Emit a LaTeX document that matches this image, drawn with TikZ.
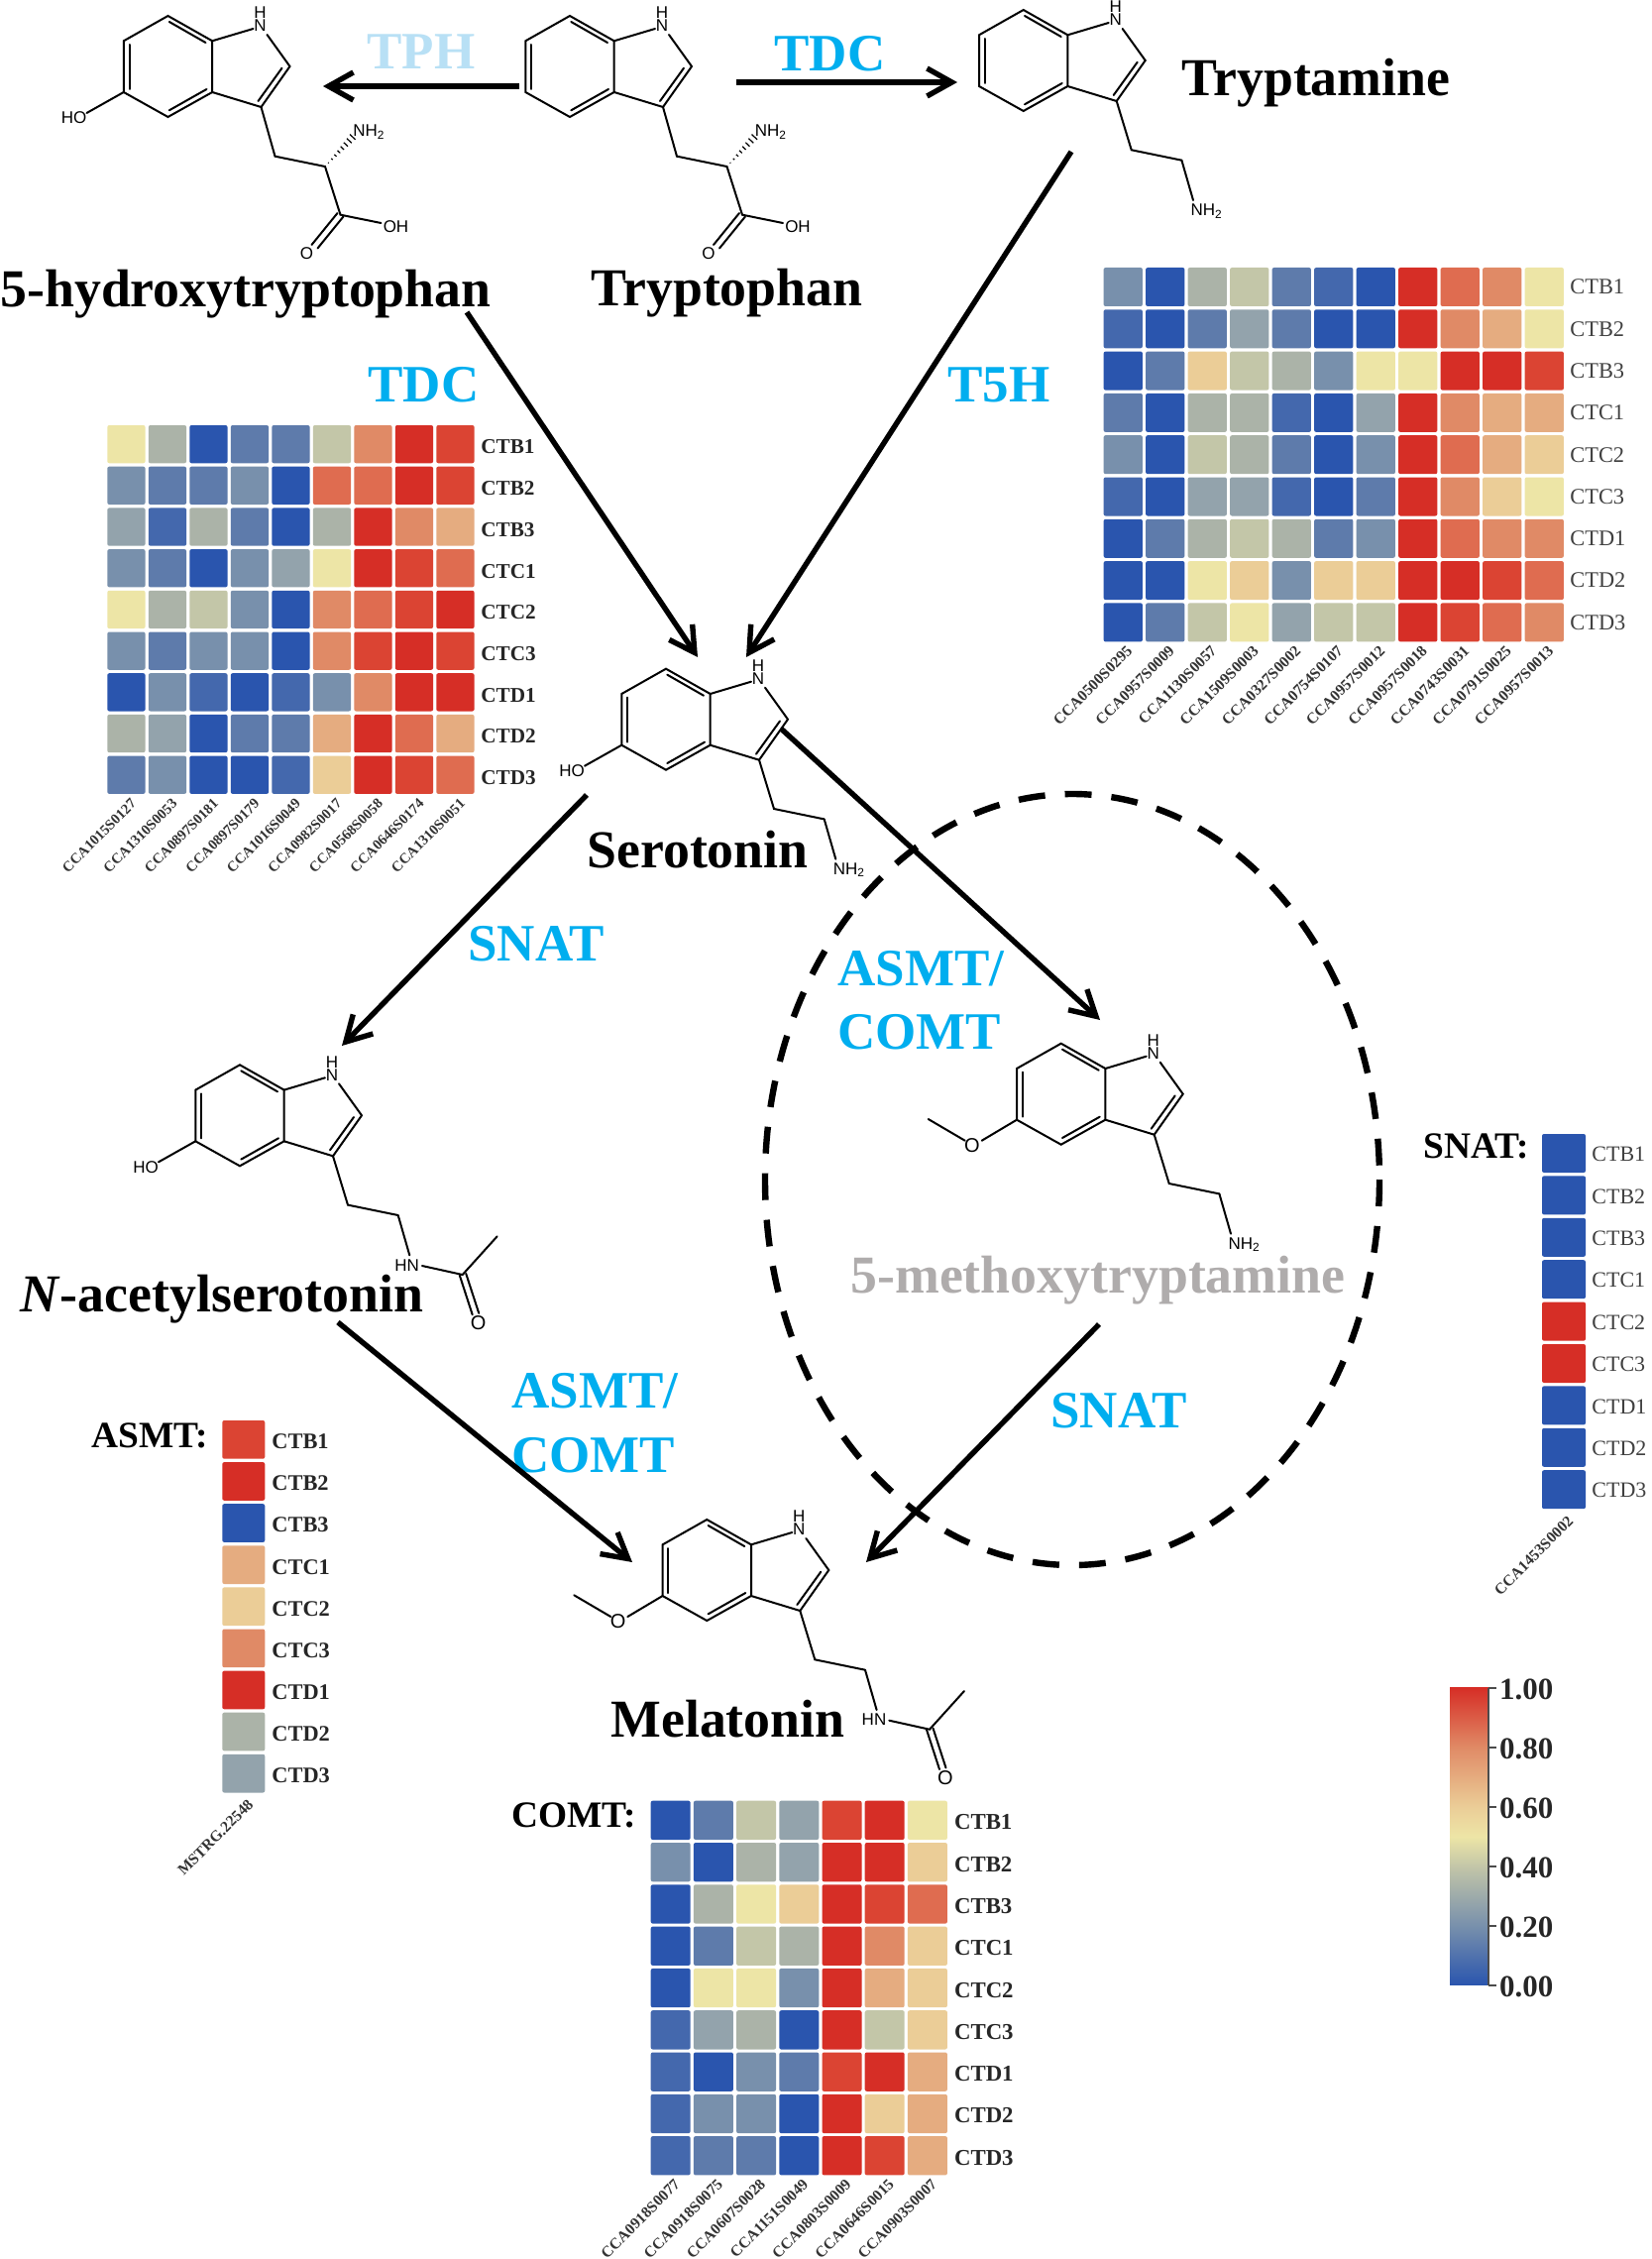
\documentclass[tikz,border=0pt]{standalone}
\usepackage{fontspec}
\setmainfont{Liberation Serif}
\newfontfamily\atomfont{Liberation Sans}
\usetikzlibrary{arrows.meta}

\definecolor{h0}{HTML}{2A55AE}
\definecolor{h1}{HTML}{4468AD}
\definecolor{h2}{HTML}{5E7BAB}
\definecolor{h3}{HTML}{7890AC}
\definecolor{h4}{HTML}{93A3AC}
\definecolor{h5}{HTML}{ABB3A8}
\definecolor{h6}{HTML}{C3C6A8}
\definecolor{h7}{HTML}{EDE5A6}
\definecolor{h8}{HTML}{EBCD97}
\definecolor{h9}{HTML}{E5AC80}
\definecolor{h10}{HTML}{E08A66}
\definecolor{h11}{HTML}{DF6C50}
\definecolor{h12}{HTML}{DB4433}
\definecolor{h13}{HTML}{D62E26}
\definecolor{enzyme}{HTML}{00AEEF}
\definecolor{enzymeoff}{HTML}{B8E0F5}
\definecolor{faded}{HTML}{AFACAC}
\pgfdeclareverticalshading{heatbar}{100bp}{color(0bp)=(h0); color(25bp)=(h0);
  color(35bp)=(h3); color(45bp)=(h6); color(50bp)=(h7); color(55bp)=(h8);
  color(65bp)=(h10); color(75bp)=(h13); color(100bp)=(h13)}

\tikzset{
  bond/.style={line width=1pt,line cap=round},
  atom/.style={font=\atomfont\fontsize{8.5}{9}\selectfont,inner sep=0pt},
  mol/.style={font=\bfseries\fontsize{26.9}{30}\selectfont,inner sep=0pt,anchor=base west},
  enz/.style={mol,font=\bfseries\fontsize{26.5}{30}\selectfont,text=enzyme},
  tag/.style={font=\bfseries\fontsize{18.7}{20}\selectfont,inner sep=0pt,anchor=base west},
  react/.style={line width=2.7pt,-{Straight Barb[length=12.5pt,width=14pt,line width=2.7pt]}},
  rowplain/.style={font=\fontsize{11.2}{12}\selectfont,text=black!75,inner sep=0pt,anchor=west},
  rowbold/.style={font=\bfseries\fontsize{10.6}{12}\selectfont,text=black!85,inner sep=0pt,anchor=west},
  gene/.style={font=\bfseries\fontsize{7.8}{9}\selectfont,text=black!80,inner sep=0pt,anchor=east,rotate=45},
  barlabel/.style={font=\bfseries\fontsize{15.5}{17}\selectfont,text=black!85,inner sep=0pt,anchor=west},
}

% x, y, column step, row step, cell width, cell height, rows of colour levels
\newcommand{\heatcells}[7]{
  \foreach \row [count=\j from 0] in {#7}{
    \foreach \v [count=\i from 0] in \row{
      \fill[fill=h\v,rounded corners=1pt] ({#1+\i*#3},{#2+\j*#4}) rectangle ++(#5,#6);
    }
  }
}
% prefix, x, y of the first row's centre, row step, style
\newcommand{\rowlabels}[5]{
  \foreach \lab [count=\j from 0] in {CTB1,CTB2,CTB3,CTC1,CTC2,CTC3,CTD1,CTD2,CTD3}{
    \node[#5] (#1\lab) at ({#2},{#3+\j*#4}) {\lab};
  }
}
% prefix, x and y of the first label's end, column step, names
\newcommand{\genelabels}[5]{
  \foreach \lab [count=\i from 0] in {#5}{
    \node[gene] (#1\lab) at ({#2+\i*#4},{#3}) {\lab};
  }
}
% drawn with the ring's centre as origin
\newcommand{\indole}[1]{
  \draw[bond] (0,-51) -- (-44.7,-25.7) -- (-44.7,26) -- (0,51) -- (44.7,26) -- (44.7,-25.7) -- cycle;
  \draw[bond] (44.7,-25.7) -- (86,-38);
  \draw[bond] (100,-32) -- (123,0) -- (94,41) -- (44.7,26);
  \draw[bond] (1.3,-45) -- (38,-24);
  \draw[bond] (-39,-22) -- (-39,23);
  \draw[bond] (1.3,44.3) -- (39,23);
  \draw[bond] (115,1.7) -- (91,35);
  \node[atom] (#1N) at (93,-41) {N};
  \node[atom] (#1H) at (93,-54) {H};
}
\newcommand{\hydroxy}[1]{
  \draw[bond] (-44.7,26) -- (-82,47);
  \node[atom] (#1HO) at (-95,52) {HO};
}
\newcommand{\methoxy}[1]{
  \draw[bond] (-44.7,26) -- (-80,47);
  \draw[bond] (-97,47) -- (-134,25.3);
  \node[atom,font=\atomfont\fontsize{10}{10}\selectfont] (#1O) at (-89.7,52) {O};
}
\newcommand{\ethyl}{
  \draw[bond] (94,41) -- (109,90.3) -- (159.7,100.7);
}
\newcommand{\amine}[1]{
  \draw[bond] (159.7,100.7) -- (171.3,141);
  \node[atom] (#1NH) at (185,152) {NH\textsubscript{2}};
}
\newcommand{\acetamide}[1]{
  \draw[bond] (159.7,100.7) -- (171.3,141);
  \node[atom] (#1HN) at (168.7,151) {HN};
  \draw[bond] (184,151.7) -- (224.7,160.7) -- (259.7,122);
  \draw[bond] (221.7,161) -- (234.7,201);
  \draw[bond] (228.2,159.5) -- (241.2,199.5);
  \node[atom,font=\atomfont\fontsize{10}{10}\selectfont] (#1O) at (240.7,209.7) {O};
}
\newcommand{\aminoacid}[1]{
  \draw[bond] (94,41) -- (108,90.7) -- (158.5,101) -- (174,149.7) -- (215,158);
  \draw[bond] (171,148) -- (145,180);
  \draw[bond] (177,151.5) -- (151,183.5);
  \foreach \t in {.12,.24,...,1}{
    \draw[line width=.6pt] ({158.5+29*\t-2.9*\t},{101-31*\t-2.7*\t}) -- ({158.5+29*\t+2.9*\t},{101-31*\t+2.7*\t});
  }
  \node[atom] (#1NH) at (203,66) {NH\textsubscript{2}};
  \node[atom] (#1OH) at (230,162) {OH};
  \node[atom] (#1O) at (140,189) {O};
}

\begin{document}
\begin{tikzpicture}[x=.5pt,y=-.5pt]
\useasboundingbox (0,0) rectangle (1666,2279);
\fill[white] (0,0) rectangle (1666,2279);

% molecules
\begin{scope}[shift={(169.5,67)}] \indole{htp} \hydroxy{htp} \aminoacid{htp} \end{scope}
\begin{scope}[shift={(575,67)}] \indole{trp} \aminoacid{trp} \end{scope}
\begin{scope}[shift={(1032.7,61)}] \indole{tra} \ethyl \amine{tra} \end{scope}
\begin{scope}[shift={(672,725.7)}] \indole{ser} \hydroxy{ser} \ethyl \amine{ser} \end{scope}
\begin{scope}[shift={(242,1125.3)}] \indole{nas} \hydroxy{nas} \ethyl \acetamide{nas} \end{scope}
\begin{scope}[shift={(1070.7,1103.7)}] \indole{mtr} \methoxy{mtr} \ethyl \amine{mtr} \end{scope}
\begin{scope}[shift={(713.3,1584)}] \indole{mel} \methoxy{mel} \ethyl \acetamide{mel} \end{scope}

% names
\node[mol] (htpname) at (0,309.5) {5-hydroxytryptophan};
\node[mol] (trpname) at (596,308.5) {Tryptophan};
\node[mol] (traname) at (1192,96.5) {Tryptamine};
\node[mol] (sername) at (592,875) {Serotonin};
\node[mol] (nasname) at (20,1323) {\textit{N}-acetylserotonin};
\node[mol,text=faded] (mtrname) at (858,1304) {5-methoxytryptamine};
\node[mol] (melname) at (616,1752) {Melatonin};

% enzymes
\node[enz,text=enzymeoff] (tph) at (370,70) {TPH};
\node[enz] (tdcb) at (781,72) {TDC};
\node[enz] (tdca) at (371,406) {TDC};
\node[enz] (tfh) at (956,406) {T5H};
\node[enz] (snata) at (472,969) {SNAT};
\node[enz] (snatb) at (1060,1440) {SNAT};
\node[enz] (asmta) at (845,994) {ASMT/};
\node[enz] (comta) at (845,1058) {COMT};
\node[enz] (asmtb) at (516,1420) {ASMT/};
\node[enz] (comtb) at (516,1485) {COMT};

% free ends of the reactions
\coordinate (trpw) at (524,87);
\coordinate (htpe) at (326,87);
\coordinate (trpe) at (743,83);
\coordinate (trae) at (966,83);
\coordinate (htps) at (471,315);
\coordinate (tras) at (1081,153);
\coordinate (serl) at (704,663);
\coordinate (serr) at (753,663);
\coordinate (sersw) at (592,802);
\coordinate (nasn) at (345,1055);
\coordinate (sere) at (788,735);
\coordinate (mtrn) at (1110,1029);
\coordinate (nass) at (341,1334);
\coordinate (mtrs) at (1109,1336);
\coordinate (mell) at (638,1576);
\coordinate (melr) at (874,1576);

\draw[line width=3.2pt,dash pattern=on 13.5pt off 10pt] (1082,1190) ellipse [x radius=310,y radius=389];

\path[react]
(trpw) edge (htpe)
(trpe) edge (trae)
(htps) edge (serl)
(tras) edge (serr)
(sersw) edge (nasn)
(sere) edge (mtrn)
(nass) edge (mell)
(mtrs) edge (melr)
;

% heat maps
\heatcells{1113.6}{270}{42.5}{42.3}{39.3}{39}{
  {3,0,5,6,2,1,0,13,11,10,7},
  {1,0,2,4,2,0,0,13,10,9,7},
  {0,2,8,6,5,3,7,7,13,13,12},
  {2,0,5,5,1,0,4,13,10,9,9},
  {3,0,6,5,2,0,3,13,11,9,8},
  {1,0,4,4,1,0,2,13,10,8,7},
  {0,2,5,6,5,2,3,13,11,10,10},
  {0,0,7,8,3,8,8,13,13,12,11},
  {0,2,6,7,4,6,6,13,12,11,10}}
\rowlabels{t}{1584}{289.5}{42.3}{rowplain}
\genelabels{t}{1140}{654}{42.5}{CCA0500S0295,CCA0957S0009,CCA1130S0057,CCA1509S0003,CCA0327S0002,CCA0754S0107,CCA0957S0012,CCA0957S0018,CCA0743S0031,CCA0791S0025,CCA0957S0013}

\heatcells{108.3}{429}{41.5}{41.7}{38.3}{38.3}{
  {7,5,0,2,2,6,10,13,12},
  {3,2,2,3,0,11,11,13,12},
  {4,1,5,2,0,5,13,10,9},
  {3,2,0,3,4,7,13,12,11},
  {7,5,6,3,0,10,11,12,13},
  {3,2,3,3,0,10,12,13,12},
  {0,3,1,0,1,3,10,13,13},
  {5,4,0,2,2,9,13,11,9},
  {2,3,0,0,1,8,13,12,11}}
\rowlabels{d}{485}{451}{41.7}{rowbold}
\begin{scope}[gene/.append style={font=\bfseries\fontsize{7.3}{9}\selectfont}]
\genelabels{d}{135}{808}{41.5}{CCA1015S0127,CCA1310S0053,CCA0897S0181,CCA0897S0179,CCA1016S0049,CCA0982S0017,CCA0568S0058,CCA0646S0174,CCA1310S0051}
\end{scope}

\heatcells{656.7}{1816.7}{43.2}{42.3}{40}{39.3}{
  {0,2,6,4,12,13,7},
  {3,0,5,4,13,13,8},
  {0,5,7,8,13,12,11},
  {0,2,6,5,13,10,8},
  {0,7,7,3,13,9,8},
  {1,4,5,0,13,6,8},
  {1,0,3,2,12,13,9},
  {1,3,3,0,13,8,9},
  {1,2,2,0,13,12,9}}
\rowlabels{c}{962.7}{1838.4}{42.3}{rowbold,font=\bfseries\fontsize{11.4}{12}\selectfont}
\genelabels{c}{683.5}{2201}{43.2}{CCA0918S0077,CCA0918S0075,CCA0607S0028,CCA1151S0049,CCA0803S0009,CCA0646S0015,CCA0903S0007}
\node[tag] (comtag) at (516,1843) {COMT:};

\heatcells{1556}{1144}{42.4}{42.4}{44}{39}{{0},{0},{0},{0},{13},{13},{0},{0},{0}}
\rowlabels{s}{1606}{1164.5}{42.4}{rowplain,font=\fontsize{11}{12}\selectfont}
\genelabels{s}{1585}{1532}{42.4}{CCA1453S0002}
\node[tag] (snatag) at (1436,1168) {SNAT:};

\heatcells{224.3}{1433}{43}{42.1}{43}{38.7}{{12},{13},{0},{9},{8},{10},{13},{5},{4}}
\rowlabels{a}{274}{1454.4}{42.1}{rowbold,font=\bfseries\fontsize{11.2}{12}\selectfont}
\genelabels{a}{253}{1818}{43}{MSTRG.22548}
\node[tag] (asmtag) at (92,1460) {ASMT:};

% colour scale
\shade[shading=heatbar] (1463,1702.7) rectangle (1502,2002.7);
\draw[line width=.6pt,black!70] (1502,1702.7) -- (1502,2002.7);
\foreach \val [count=\k from 0] in {1.00,0.80,0.60,0.40,0.20,0.00}{
  \draw[line width=.8pt,black!70] (1502,{1702.7+60*\k}) -- (1510,{1702.7+60*\k});
  \node[barlabel] (bar\k) at (1512.7,{1704.2+60*\k}) {\val};
}
\end{tikzpicture}
\end{document}
